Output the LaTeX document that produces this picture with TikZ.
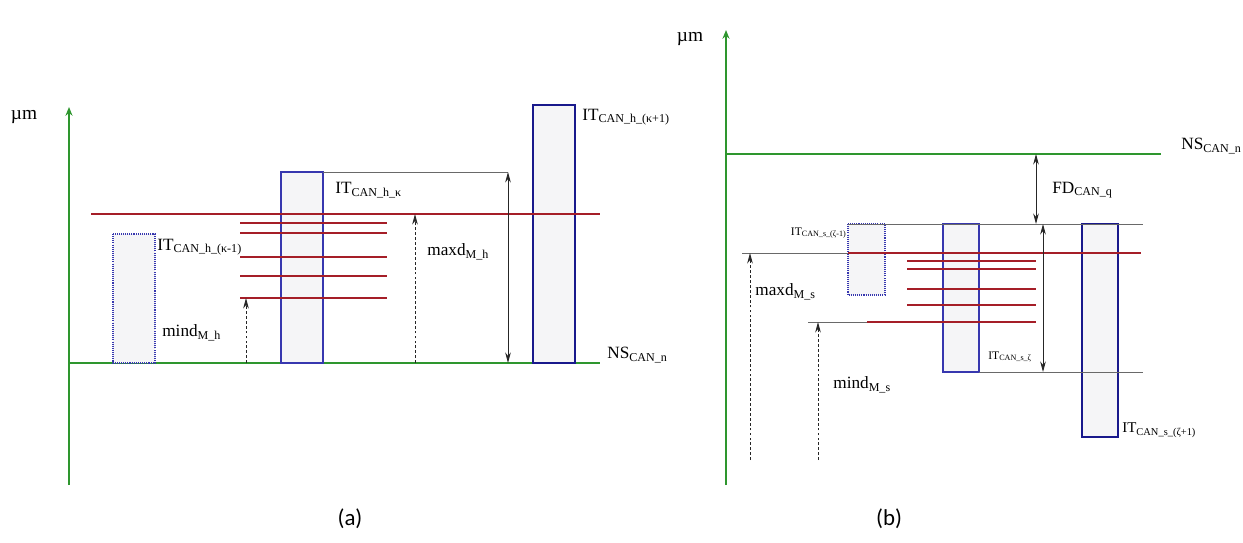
\documentclass[tikz,border=0pt]{standalone}
\usepackage{fontspec}
\setmainfont{Liberation Serif}
\newfontfamily\capfont{Carlito}
\usetikzlibrary{arrows.meta}
\definecolor{axgreen}{RGB}{46,150,46}
\definecolor{redl}{RGB}{165,30,40}
\definecolor{bluel}{RGB}{55,55,175}
\definecolor{navy}{RGB}{25,25,140}
\definecolor{boxfill}{RGB}{245,245,247}
\definecolor{grayl}{RGB}{105,105,105}
\tikzset{
  axisline/.style={draw=axgreen, line width=0.8pt},
  axisarrow/.style={axisline, -{Stealth[length=5pt,width=4pt]}},
  redline/.style={draw=redl, line width=0.75pt},
  grayline/.style={draw=grayl, line width=0.5pt},
  thinbox/.style={draw=bluel, fill=boxfill, line width=0.7pt},
  dotbox/.style={draw=bluel, fill=boxfill, line width=0.7pt, dash pattern=on 0.6pt off 0.6pt},
  thickbox/.style={draw=navy, fill=boxfill, line width=1.4pt},
  dimarrow/.style={draw=black!85, line width=0.5pt, {Stealth[length=6pt,width=3.2pt]}-{Stealth[length=6pt,width=3.2pt]}},
  dasharrow/.style={draw=black!85, line width=0.5pt, dash pattern=on 1.6pt off 1.2pt, -{Stealth[length=6pt,width=3.2pt]}},
  lbl/.style={anchor=west, inner sep=0pt, font=\fontsize{9.8}{11}\selectfont},
  slbl/.style={anchor=west, inner sep=0pt, font=\fontsize{6.6}{7}\selectfont},
  mlbl/.style={anchor=west, inner sep=0pt, font=\fontsize{8.5}{10}\selectfont},
  umlbl/.style={inner sep=0pt, font=\fontsize{11}{13}\selectfont},
  captext/.style={inner sep=0pt, font=\capfont\fontsize{13}{15}\selectfont}
}
\begin{document}
\begin{tikzpicture}[x=0.02cm,y=-0.02cm]
\useasboundingbox (0,0) rectangle (1243,543);

% ---------------- panel (a) ----------------
\coordinate (aO) at (69,485);
\coordinate (aTop) at (69,107);
\coordinate (aB0) at (69,363);
\coordinate (aB1) at (600,363);
\draw[axisarrow] (aO) -- (aTop);
\draw[axisline] (aB0) -- (aB1);

% boxes
\draw[dotbox] (113,234) rectangle (155,363);
\draw[thinbox] (281,172) rectangle (323,363);
\draw[thickbox] (533,105) rectangle (575,363);

% red lines
\draw[redline] (91,214) -- (600,214);
\foreach \yy in {223,233,257,276,298} \draw[redline] (240,\yy) -- (387,\yy);

% gray line and dimension arrows
\coordinate (aG0) at (323,172);
\coordinate (aG1) at (508,172);
\coordinate (aG2) at (508,363);
\draw[grayline] (aG0) -- (aG1);
\draw[dimarrow] (aG1) -- (aG2);
\coordinate (aMin0) at (246,363);
\coordinate (aMin1) at (246,298);
\draw[dasharrow] (aMin0) -- (aMin1);
\coordinate (aMax0) at (415,363);
\coordinate (aMax1) at (415,214);
\draw[dasharrow] (aMax0) -- (aMax1);

% labels (a)
\node[umlbl] (aum) at (24,117) {µm};
\node[lbl] (aIT1) at (157,247) {IT\textsubscript{CAN\_h\_(κ-1)}};
\node[lbl] (aIT2) at (335,190) {IT\textsubscript{CAN\_h\_κ}};
\node[lbl] (aIT3) at (582,117) {IT\textsubscript{CAN\_h\_(κ+1)}};
\node[lbl] (amind) at (162,333) {mind\textsubscript{M\_h}};
\node[lbl] (amaxd) at (427,252) {maxd\textsubscript{M\_h}};
\node[lbl] (aNS) at (607,355) {NS\textsubscript{CAN\_n}};

% ---------------- panel (b) ----------------
\coordinate (bO) at (726,485);
\coordinate (bTop) at (726,30);
\coordinate (bN0) at (726,154);
\coordinate (bN1) at (1161,154);
\draw[axisarrow] (bO) -- (bTop);
\draw[axisline, line width=1.1pt] (bN0) -- (bN1);

% boxes
\draw[dotbox] (848,224) rectangle (885,295);
\draw[thinbox, line width=0.85pt] (943,224) rectangle (979,372);
\draw[thickbox, line width=1.2pt] (1082,224) rectangle (1118,437);

% gray lines
\draw[grayline] (848,224) -- (1143,224);
\draw[grayline] (979,372) -- (1143,372);
\draw[grayline] (742,253) -- (848,253);
\draw[grayline] (808,322) -- (867,322);

% red lines
\draw[redline] (848,253) -- (1141,253);
\draw[redline] (867,322) -- (1036,322);
\foreach \yy in {261,269,289,305} \draw[redline] (907,\yy) -- (1036,\yy);

% arrows
\coordinate (bF0) at (1036,154);
\coordinate (bF1) at (1036,224);
\draw[dimarrow] (bF0) -- (bF1);
\coordinate (bI0) at (1043,224);
\coordinate (bI1) at (1043,372);
\draw[dimarrow] (bI0) -- (bI1);
\coordinate (bMax0) at (750,460);
\coordinate (bMax1) at (750,253);
\draw[dasharrow] (bMax0) -- (bMax1);
\coordinate (bMin0) at (818,460);
\coordinate (bMin1) at (818,322);
\draw[dasharrow] (bMin0) -- (bMin1);

% labels (b)
\node[umlbl] (bum) at (690,39) {µm};
\node[lbl] (bNS) at (1181,146) {NS\textsubscript{CAN\_n}};
\node[lbl] (bFD) at (1052,190) {FD\textsubscript{CAN\_q}};
\node[slbl, anchor=east] (bIT1) at (847,233) {IT\textsubscript{CAN\_s\_(ζ-1)}};
\node[slbl] (bIT2) at (988,357) {IT\textsubscript{CAN\_s\_ζ}};
\node[mlbl] (bIT3) at (1122,430) {IT\textsubscript{CAN\_s\_(ζ+1)}};
\node[lbl] (bmaxd) at (755,292) {maxd\textsubscript{M\_s}};
\node[lbl] (bmind) at (833,385) {mind\textsubscript{M\_s}};

% captions
\node[captext] (capa) at (350,519) {(a)};
\node[captext] (capb) at (889,519) {(b)};
\end{tikzpicture}
\end{document}
